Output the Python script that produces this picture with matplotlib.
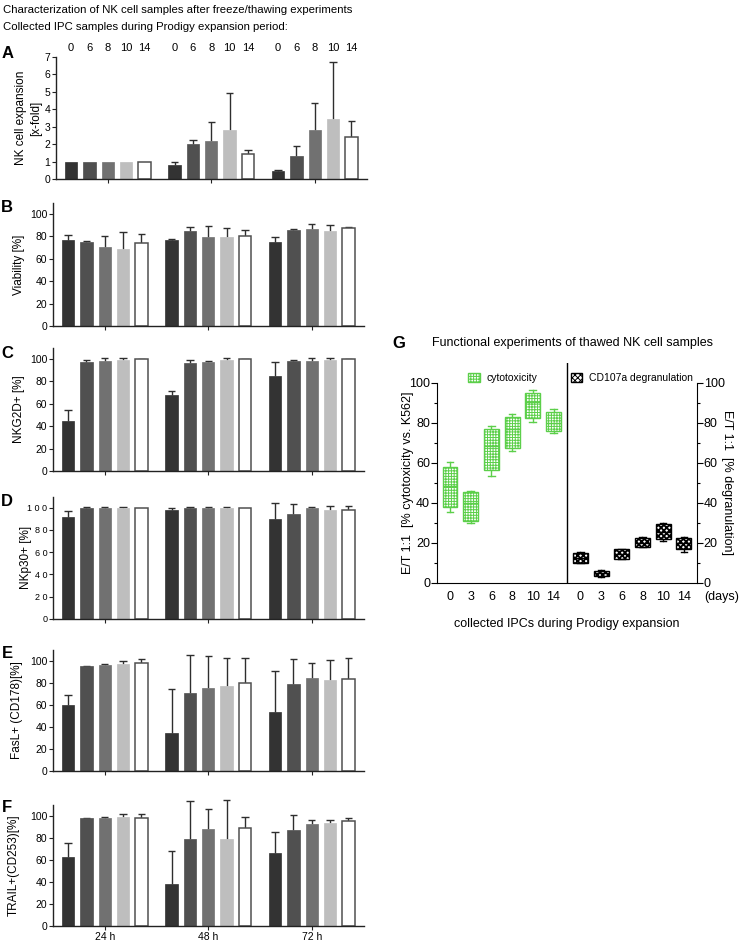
import numpy as np
import matplotlib.pyplot as plt
from matplotlib.patches import Patch

plt.rcParams['font.family'] = ['Liberation Sans', 'DejaVu Sans']
plt.rcParams['hatch.linewidth'] = 0.7

# ---- data: left panels, rows = 24 h / 48 h / 72 h, cols = day 0, 6, 8, 10, 14
groups = ['24 h', '48 h', '72 h']
days = ['0', '6', '8', '10', '14']
bar_colors = ['#333333', '#505050', '#717171', '#bebebe', '#ffffff']

exp_mean = [[1.0, 1.0, 1.0, 1.0, 1.0], [0.80, 2.01, 2.20, 2.83, 1.43], [0.48, 1.32, 2.83, 3.44, 2.41]]
exp_err = [[0, 0, 0, 0, 0], [0.16, 0.23, 1.05, 2.12, 0.23], [0.06, 0.55, 1.55, 3.25, 0.90]]

via_mean = [[76.6, 75.4, 70.4, 68.9, 73.7], [77.0, 84.4, 79.3, 79.3, 80.8], [75.4, 85.9, 86.8, 85.0, 87.1]]
via_err = [[4.8, 0.9, 10.4, 14.9, 8.0], [0.8, 4.2, 10.2, 7.8, 4.5], [3.9, 0.6, 3.9, 4.8, 1.5]]

nkg_mean = [[44.4, 97.6, 98.0, 99.0, 100], [68.3, 96.5, 97.0, 99.0, 100], [85.0, 98.0, 98.5, 99.0, 100]]
nkg_err = [[10.5, 1.2, 2.5, 2.0, 0.3], [3.4, 2.5, 1.0, 1.5, 0.3], [12.0, 1.5, 2.0, 1.5, 0.3]]

nkp_mean = [[91.9, 100, 100, 100, 100], [97.6, 100, 100, 100, 100], [90.0, 94.8, 100, 98.3, 98.3]]
nkp_err = [[5.1, 0.3, 0.3, 0.3, 0], [2.4, 0.3, 0.3, 0.3, 0], [14.5, 8.8, 0.3, 3.2, 3.2]]

fas_mean = [[59.8, 94.8, 96.4, 97.0, 97.6], [34.4, 71.0, 75.5, 77.0, 79.5], [53.2, 78.9, 84.3, 82.2, 83.4]]
fas_err = [[9.4, 0.5, 0.3, 3.0, 3.9], [39.6, 34.4, 28.7, 25.4, 22.6], [37.1, 22.6, 13.6, 18.1, 19.0]]

trail_mean = [[62.2, 97.6, 97.6, 98.5, 98.2], [37.8, 78.5, 87.6, 78.5, 88.5], [65.9, 87.0, 92.1, 93.0, 95.2]]
trail_err = [[12.7, 0.6, 1.2, 2.7, 3.3], [30.2, 34.5, 18.4, 35.5, 10.5], [19.6, 13.6, 3.9, 3.0, 3.0]]

# ---- data: panel G boxes (days 0, 3, 6, 8, 10, 14)
g_days = ['0', '3', '6', '8', '10', '14']
cyto_med = [48.3, 39.7, 68.2, 76.8, 90.3, 80.0]
cyto_q1 = [38.0, 31.0, 56.4, 67.5, 82.5, 75.8]
cyto_q3 = [57.7, 45.5, 76.7, 83.0, 95.0, 85.5]
cyto_lo = [35.5, 29.7, 53.5, 65.7, 80.2, 75.0]
cyto_hi = [60.2, 45.8, 78.5, 84.4, 96.4, 87.0]

degr_med = [12.5, 4.7, 14.3, 20.0, 25.5, 19.7]
degr_q1 = [10.0, 3.3, 12.0, 18.0, 21.7, 16.7]
degr_q3 = [14.7, 6.0, 16.7, 22.2, 29.3, 22.5]
degr_lo = [9.7, 3.0, 11.7, 17.7, 20.7, 15.5]
degr_hi = [15.2, 6.3, 17.0, 22.7, 29.7, 23.0]

W, H = 741, 944
fig = plt.figure(figsize=(W / 100, H / 100), dpi=100)


def px_axes(left, right, top, bottom):
    return fig.add_axes([left / W, 1 - bottom / H, (right - left) / W, (bottom - top) / H])


step = 0.177
bw = 0.12
err_col = '#2e2e2e'


def bar_panel(ax, means, errs, ymax, yticks):
    means = np.array(means)
    errs = np.array(errs)
    for g in range(3):
        for i in range(5):
            x = g + (i - 2) * step
            fc = bar_colors[i]
            ec = '#505050' if i == 4 else fc
            ax.bar(x, means[g, i], width=bw, color=fc, edgecolor=ec,
                   linewidth=1.1 if i == 4 else 0.5, zorder=2)
            if errs[g, i] > 0:
                top = means[g, i] + errs[g, i]
                ax.vlines(x, means[g, i], top, color=err_col, lw=1.0, zorder=1, clip_on=False)
                ax.hlines(top, x - 0.035, x + 0.035, color=err_col, lw=1.0, zorder=1, clip_on=False)
    ax.set_xlim(-0.5, 2.5)
    ax.set_ylim(0, ymax)
    ax.set_yticks(yticks)
    ax.set_xticks([0, 1, 2])
    ax.set_xticklabels([])
    for s in ['top', 'right']:
        ax.spines[s].set_visible(False)
    for s in ['left', 'bottom']:
        ax.spines[s].set_linewidth(1.0)
        ax.spines[s].set_color('#222222')
    ax.tick_params(axis='both', length=3, width=0.8, labelsize=7.5, pad=1, color='#222222')


pct_ticks = [0, 20, 40, 60, 80, 100]

axA = px_axes(56, 366.5, 57, 179)
bar_panel(axA, exp_mean, exp_err, 7, range(0, 8))
axA.set_ylabel('NK cell expansion\n[x-fold]', fontsize=8.5, linespacing=1.3)
axA.yaxis.set_label_coords(-0.045, 0.5)
for g in range(3):
    for i in range(5):
        axA.text(g + (i - 2) * step, 7.52, days[i], ha='center', va='center', fontsize=8, clip_on=False)

axB = px_axes(53, 363.5, 202.8, 326)
bar_panel(axB, via_mean, via_err, 110, pct_ticks)
axB.set_ylabel('Viability [%]', fontsize=8.5)
axB.yaxis.set_label_coords(-0.09, 0.5)

axC = px_axes(53, 363.5, 347.8, 471)
bar_panel(axC, nkg_mean, nkg_err, 110, pct_ticks)
axC.set_ylabel('NKG2D+ [%]', fontsize=8.5)
axC.yaxis.set_label_coords(-0.09, 0.5)

axD = px_axes(53, 363.5, 496.6, 619)
bar_panel(axD, nkp_mean, nkp_err, 110, pct_ticks)
axD.set_yticklabels(['0', '2 0', '4 0', '6 0', '8 0', '1 0 0'], fontsize=6.5)
axD.set_ylabel('NKp30+ [%]', fontsize=8.5)
axD.yaxis.set_label_coords(-0.068, 0.5)

axE = px_axes(53, 363.5, 649.7, 771)
bar_panel(axE, fas_mean, fas_err, 110, pct_ticks)
axE.set_ylabel('FasL+ (CD178)[%]', fontsize=8.5)
axE.yaxis.set_label_coords(-0.097, 0.5)

axF = px_axes(53, 363.5, 804.7, 926)
bar_panel(axF, trail_mean, trail_err, 110, pct_ticks)
axF.set_xticklabels(groups, fontsize=7.5)
axF.set_ylabel('TRAIL+(CD253)[%]', fontsize=8.5)
axF.yaxis.set_label_coords(-0.108, 0.5)

# panel letters and header
for lab, (x, y) in zip('ABCDEF', [(8, 53), (7, 208), (7, 353), (7, 502), (7, 654), (7, 808)]):
    fig.text(x / W, 1 - y / H, lab, fontsize=12, fontweight='bold', ha='center', va='center')
fig.text(3 / W, 1 - 10 / H, 'Characterization of NK cell samples after freeze/thawing experiments',
         fontsize=8.2, va='center')
fig.text(3 / W, 1 - 27 / H, 'Collected IPC samples during Prodigy expansion period:',
         fontsize=8.2, va='center')

# ---- panel G
green = '#5ccf4a'
axG = px_axes(437, 696.7, 362.7, 582.7)
cpos = np.arange(6)
dpos = np.arange(6) + 6.3


def stats(med, q1, q3, lo, hi):
    return [dict(med=m, q1=a, q3=b, whislo=c, whishi=d) for m, a, b, c, d in zip(med, q1, q3, lo, hi)]


bc = axG.bxp(stats(cyto_med, cyto_q1, cyto_q3, cyto_lo, cyto_hi), positions=cpos, widths=0.72,
             capwidths=0.32, patch_artist=True, showfliers=False,
             boxprops=dict(facecolor='white', edgecolor=green, linewidth=1.0, hatch='++++++'),
             whiskerprops=dict(color=green, lw=1.0), capprops=dict(color=green, lw=1.0),
             medianprops=dict(color=green, lw=1.0))
bd = axG.bxp(stats(degr_med, degr_q1, degr_q3, degr_lo, degr_hi), positions=dpos, widths=0.72,
             capwidths=0.32, patch_artist=True, showfliers=False,
             boxprops=dict(facecolor='white', edgecolor='black', linewidth=1.0, hatch='xxxxxx'),
             whiskerprops=dict(color='black', lw=1.0), capprops=dict(color='black', lw=1.0),
             medianprops=dict(color='black', lw=1.0))
for b in bd['boxes']:
    if hasattr(b, 'set_hatch_linewidth'):
        b.set_hatch_linewidth(1.3)

axG.axvline(5.65, color='black', lw=1.0)
axG.set_xlim(-0.63, 11.92)
axG.set_ylim(0, 110)
axG.set_yticks([0, 20, 40, 60, 80, 100])
axG.set_yticks([10, 30, 50, 70, 90], minor=True)
axG.set_xticks(list(cpos) + list(dpos))
axG.set_xticklabels(g_days + g_days, fontsize=9)
axG.tick_params(axis='x', length=0, pad=6)
axG.tick_params(axis='y', which='major', length=4, width=0.8, labelsize=9, pad=1)
axG.tick_params(axis='y', which='minor', length=2.5, width=0.8)
axG.spines['top'].set_visible(False)
axG.spines['right'].set_visible(False)
axG.spines['left'].set_bounds(0, 100)
axG.set_ylabel('E/T 1:1  [% cytotoxicity vs. K562]', fontsize=9)
axG.yaxis.set_label_coords(-0.09, 0.455)
axG.set_xlabel('collected IPCs during Prodigy expansion', fontsize=9)
axG.xaxis.set_label_coords(0.5, -0.16)
axG.text(1.096, -0.065, '(days)', transform=axG.transAxes, fontsize=9, ha='center', va='center')

axR = axG.twinx()
axR.set_ylim(0, 110)
axR.set_yticks([0, 20, 40, 60, 80, 100])
axR.set_yticks([10, 30, 50, 70, 90], minor=True)
for s in ['top', 'left', 'bottom']:
    axR.spines[s].set_visible(False)
axR.spines['right'].set_bounds(0, 100)
axR.tick_params(axis='y', which='major', length=4, width=0.8, labelsize=9, pad=1)
axR.tick_params(axis='y', which='minor', length=2.5, width=0.8)
axR.set_ylabel('E/T 1:1  [% degranulation]', fontsize=9, rotation=270)
axR.yaxis.set_label_coords(1.14, 0.455)

axG.legend(handles=[Patch(facecolor='white', edgecolor=green, hatch='++++++', label='cytotoxicity')],
           loc='center left', bbox_to_anchor=(0.105, 0.93), frameon=False, fontsize=7.5,
           handlelength=1.1, handleheight=1.0, handletextpad=0.6, borderaxespad=0)
axR.legend(handles=[Patch(facecolor='white', edgecolor='black', hatch='xxxxxx', label='CD107a degranulation')],
           loc='center left', bbox_to_anchor=(0.5, 0.93), frameon=False, fontsize=7.5,
           handlelength=1.1, handleheight=1.0, handletextpad=0.6, borderaxespad=0)

fig.text(432 / W, 1 - 343 / H, 'Functional experiments of thawed NK cell samples', fontsize=9, va='center')
fig.text(399 / W, 1 - 343 / H, 'G', fontsize=12, fontweight='bold', ha='center', va='center')

fig.savefig('out.png', dpi=100)
